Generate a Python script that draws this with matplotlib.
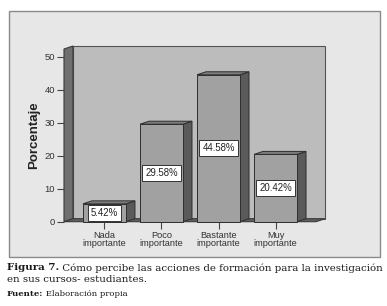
import matplotlib
matplotlib.use("Agg")
import matplotlib.pyplot as plt
from matplotlib.patches import Rectangle, Polygon
import numpy as np

categories = ["Nada\nimportante", "Poco\nimportante", "Bastante\nimportante", "Muy\nimportante"]
values = [5.42, 29.58, 44.58, 20.42]
value_labels = ["5.42%", "29.58%", "44.58%", "20.42%"]
yticks = [0, 10, 20, 30, 40, 50]
ylabel = "Porcentaje"
caption_bold = "Figura 7."
caption_rest = " Cómo percibe las acciones de formación para la investigación"
caption_line2 = "en sus cursos- estudiantes."
source_bold = "Fuente:"
source_rest = " Elaboración propia"

W, H = 387, 306
fig = plt.figure(figsize=(W / 100, H / 100), dpi=100)
fig.patch.set_facecolor("white")

def fx(px):
    return px / W

def fy(py):
    return 1 - py / H

# outer chart frame
fig.patches.append(Rectangle((fx(9), fy(257)), fx(380) - fx(9), fy(11) - fy(257),
                             transform=fig.transFigure, facecolor="#e7e7e7",
                             edgecolor="#8a8a8a", linewidth=1.0, zorder=-10))

# main axes = front plane
left_px, right_px, bottom_px, top_px = 64, 316, 221.7, 49
ax = fig.add_axes([fx(left_px), fy(bottom_px), fx(right_px) - fx(left_px), fy(top_px) - fy(bottom_px)])
ax.set_zorder(5)
ax.set_facecolor("none")
xmin, xmax = -0.71, 3.71
ymin, ymax = 0, 52.4
ax.set_xlim(xmin, xmax)
ax.set_ylim(ymin, ymax)
for s in ax.spines.values():
    s.set_visible(False)

depth_px = (9, 3)
dx = depth_px[0] * (xmax - xmin) / (right_px - left_px)
dy = depth_px[1] * (ymax - ymin) / (bottom_px - top_px)

# back wall
ax.add_patch(Rectangle((xmin + dx, ymin + dy), xmax - xmin, ymax - ymin,
                       facecolor="#bcbcbc", edgecolor="#555555", linewidth=0.8,
                       zorder=1, clip_on=False))
# left wall
ax.add_patch(Polygon([(xmin, ymin), (xmin + dx, ymin + dy), (xmin + dx, ymax + dy), (xmin, ymax)],
                     closed=True, facecolor="#6f6f6f", edgecolor="#3a3a3a", linewidth=0.8,
                     zorder=2, clip_on=False))
# floor
ax.add_patch(Polygon([(xmin, ymin), (xmax, ymin), (xmax + dx, ymin + dy), (xmin + dx, ymin + dy)],
                     closed=True, facecolor="#5e5e5e", edgecolor="#3a3a3a", linewidth=0.8,
                     zorder=2, clip_on=False))

bw = 0.754
xs = np.arange(len(values))
for x, v, lab in zip(xs, values, value_labels):
    x0, x1 = x - bw / 2, x + bw / 2
    ax.add_patch(Polygon([(x1, 0), (x1 + dx, dy), (x1 + dx, v + dy), (x1, v)], closed=True,
                         facecolor="#5a5a5a", edgecolor="#2e2e2e", linewidth=0.7, zorder=3, clip_on=False))
    ax.add_patch(Polygon([(x0, v), (x1, v), (x1 + dx, v + dy), (x0 + dx, v + dy)], closed=True,
                         facecolor="#7c7c7c", edgecolor="#2e2e2e", linewidth=0.7, zorder=3, clip_on=False))
    ax.add_patch(Rectangle((x0, 0), bw, v, facecolor="#a1a1a1", edgecolor="#2e2e2e",
                           linewidth=0.7, zorder=4, clip_on=False))
    ax.text(x, v / 2, lab, ha="center", va="center", fontsize=6.9, family="Liberation Sans",
            color="#222222", zorder=6,
            bbox=dict(boxstyle="square,pad=0.3", facecolor="white", edgecolor="#333333", linewidth=0.7))

ax.set_yticks(yticks)
ax.set_yticklabels([str(t) for t in yticks], fontsize=6.8, family="Liberation Sans", color="#333333")
ax.set_xticks(xs)
ax.set_xticklabels(categories, fontsize=6.7, family="Liberation Sans", color="#333333", linespacing=0.95)
ax.tick_params(axis="y", length=5, width=0.8, color="#444444", pad=1.5)
ax.tick_params(axis="x", length=5, width=0.8, color="#444444", pad=1.5)
ax.set_ylabel(ylabel, fontsize=9.5, fontweight="bold", family="Liberation Sans", color="#222222", labelpad=3)

# caption
serif = "DejaVu Serif"
cap_size = 7.35
t1 = fig.text(fx(7), fy(268), caption_bold, fontsize=cap_size, fontweight="bold", family=serif,
              va="center", ha="left", color="#1a1a1a")
fig.canvas.draw()
bb = t1.get_window_extent()
fig.text(bb.x1 / W, fy(268), caption_rest, fontsize=cap_size, family=serif, va="center", ha="left",
         color="#1a1a1a")
fig.text(fx(7), fy(279), caption_line2, fontsize=cap_size, family=serif, va="center", ha="left",
         color="#1a1a1a")
t2 = fig.text(fx(7), fy(294), source_bold, fontsize=6.1, fontweight="bold", family=serif,
              va="center", ha="left", color="#1a1a1a")
fig.canvas.draw()
bb2 = t2.get_window_extent()
fig.text(bb2.x1 / W, fy(294), source_rest, fontsize=6.1, family=serif, va="center", ha="left",
         color="#1a1a1a")

fig.savefig("out.png", dpi=100, facecolor="white")
